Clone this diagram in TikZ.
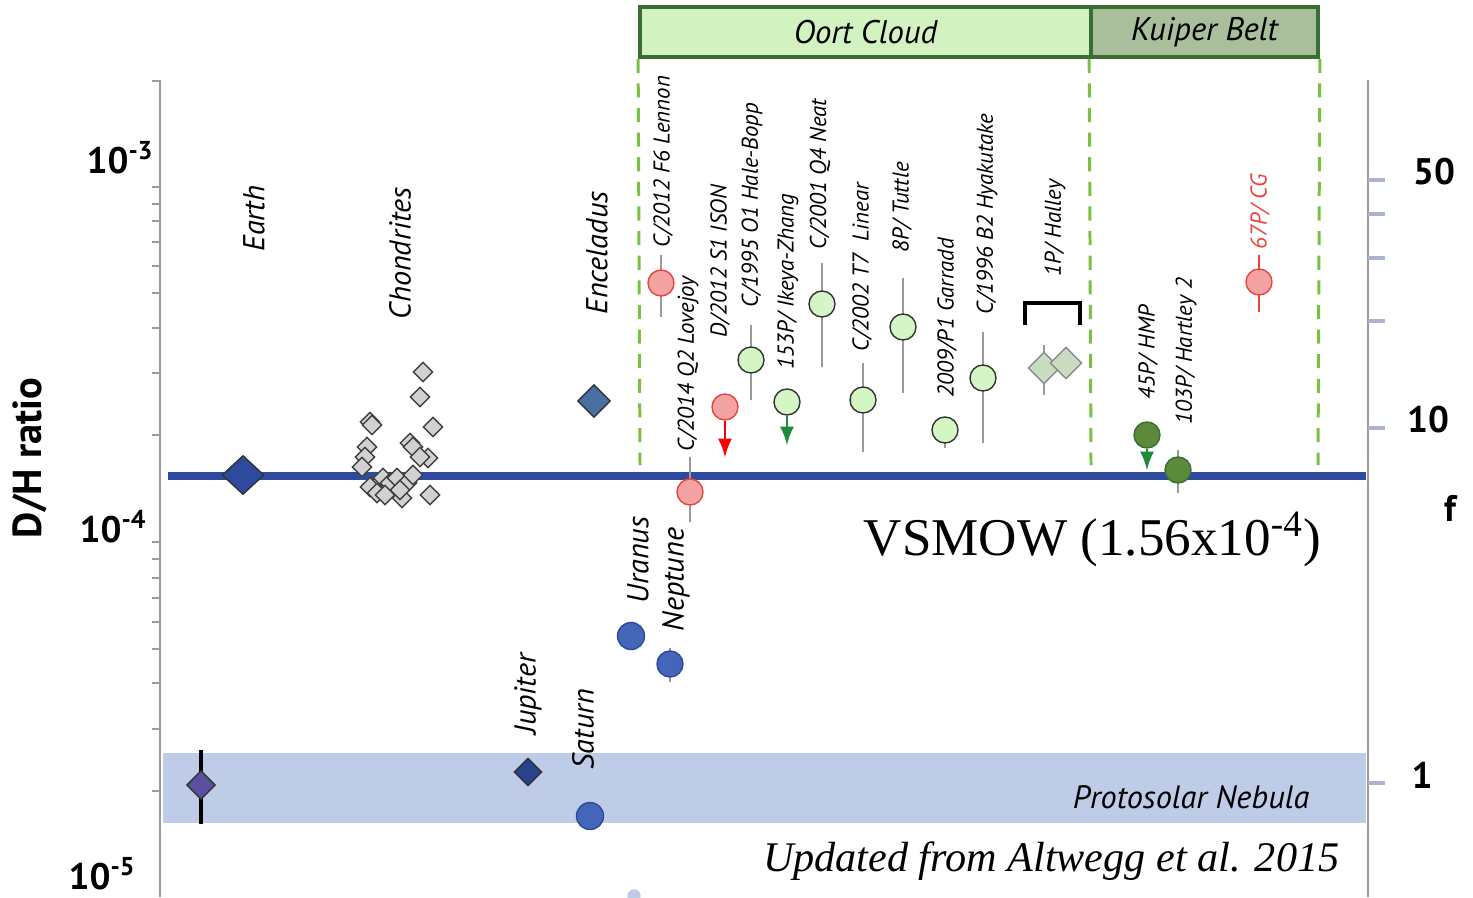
\documentclass[tikz,border=0pt]{standalone}
\usepackage{fontspec}
\setmainfont{Liberation Serif}
\setsansfont{PT Sans}
\usetikzlibrary{arrows,shapes}
\definecolor{smow}{HTML}{2E4A9E}
\definecolor{nebula}{HTML}{BFCCE8}
\definecolor{oortfill}{HTML}{D3F2C2}
\definecolor{kuipfill}{HTML}{A9BF9B}
\definecolor{beltedge}{HTML}{3A6E34}
\definecolor{dashgreen}{HTML}{7CC043}
\definecolor{axgray}{HTML}{9B9B9B}
\definecolor{ftick}{HTML}{AAB4CC}
\definecolor{ptred}{HTML}{E8463C}
\definecolor{ptpink}{HTML}{F4A3A3}
\definecolor{ltgreen}{HTML}{D4F5C4}
\definecolor{dkgreen}{HTML}{5A8A3A}
\definecolor{planet}{HTML}{4466B8}
\definecolor{arrgreen}{HTML}{1E8A3C}
\definecolor{encelfill}{HTML}{4A6FA5}
\definecolor{nebfill}{HTML}{5B4FA0}
\definecolor{halleyfill}{HTML}{C9DCC0}
\tikzstyle{axis}=[axgray,line width=0.8pt]
\tikzstyle{ebar}=[axgray,line width=0.8pt]
\tikzstyle{redc}=[circle,draw=ptred,fill=ptpink,line width=0.4pt,minimum size=0.26cm,inner sep=0pt]
\tikzstyle{oortc}=[circle,draw=black!80,fill=ltgreen,line width=0.4pt,minimum size=0.26cm,inner sep=0pt]
\tikzstyle{kuipc}=[circle,draw=beltedge,fill=dkgreen,line width=0.4pt,minimum size=0.26cm,inner sep=0pt]
\tikzstyle{planetc}=[circle,draw=smow,fill=planet,line width=0.4pt,minimum size=0.27cm,inner sep=0pt]
\tikzstyle{chond}=[diamond,draw=black!75,fill=black!18,line width=0.4pt,minimum size=0.2cm,inner sep=0pt]
\tikzstyle{belt}=[rectangle,draw=beltedge,line width=1pt,minimum height=0.5cm,inner sep=0pt,font=\sffamily\itshape\fontsize{9.3}{11}\selectfont]
\tikzstyle{gdash}=[dashgreen,line width=0.85pt,dash pattern=on 4pt off 3pt]
\tikzstyle{clbl}=[rotate=90,anchor=west,inner sep=0pt,font=\sffamily\itshape\fontsize{6.5}{7}\selectfont]
\tikzstyle{plbl}=[rotate=90,anchor=west,inner sep=0pt,font=\sffamily\itshape\fontsize{8.6}{9}\selectfont]
\tikzstyle{ticklbl}=[inner sep=0pt,font=\sffamily\bfseries\fontsize{10.5}{12}\selectfont]
\tikzstyle{uplim}=[-latex,line width=0.8pt]

\begin{document}
\begin{tikzpicture}[x=0.01cm,y=-0.01cm]
\useasboundingbox (0,0) rectangle (1473,897);
% nebula band and VSMOW line
\fill[nebula] (163,753) rectangle (1366,823);
\draw[smow,line width=2pt] (168,476) -- (1366,476);
% axes
\draw[axis] (160,80) -- (160,897); \draw[axis] (152,81) -- (160,81);
\draw[axis] (152,187)--(160,187); \draw[axis] (152,204)--(160,204); \draw[axis] (152,221)--(160,221);
\draw[axis] (152,242)--(160,242); \draw[axis] (152,266)--(160,266); \draw[axis] (152,293)--(160,293);
\draw[axis] (152,328)--(160,328); \draw[axis] (152,373)--(160,373); \draw[axis] (152,435)--(160,435);
\draw[axis] (152,542)--(160,542); \draw[axis] (152,559)--(160,559); \draw[axis] (152,578)--(160,578);
\draw[axis] (152,598)--(160,598); \draw[axis] (152,622)--(160,622); \draw[axis] (152,649)--(160,649);
\draw[axis] (152,683)--(160,683); \draw[axis] (152,729)--(160,729); \draw[axis] (152,791)--(160,791);
\draw[axis] (1368,80) -- (1368,897);
\draw[ftick,line width=0.9pt] (1368,180)--(1385,180); \draw[ftick,line width=0.9pt] (1368,214)--(1385,214);
\draw[ftick,line width=0.9pt] (1368,258)--(1385,258); \draw[ftick,line width=0.9pt] (1368,321)--(1385,321);
\draw[ftick,line width=0.9pt] (1368,428)--(1385,428); \draw[ftick,line width=0.9pt] (1368,783)--(1385,783);
\node[ticklbl,anchor=east] (e3) at (155,158) {10\textsuperscript{-3}};
\node[ticklbl,anchor=east] (e4) at (148,527) {10\textsuperscript{-4}};
\node[ticklbl,anchor=east] (e5) at (137,874) {10\textsuperscript{-5}};
\node[rotate=90,inner sep=0pt,font=\sffamily\bfseries\fontsize{11.5}{13}\selectfont] (ylab) at (30,458) {D/H ratio};
\node[ticklbl] (f50) at (1434,172) {50};
\node[ticklbl] (f10) at (1428,420) {10};
\node[ticklbl] (fsym) at (1450,508) {f};
\node[ticklbl] (f1) at (1422,775) {1};
% reservoirs
\node[belt,fill=oortfill,minimum width=4.51cm] (oort) at (865.5,32) {Oort Cloud};
\node[belt,fill=kuipfill,minimum width=2.27cm] (kuiper) at (1204.5,32) {Kuiper Belt};
\coordinate (oortend) at (640,465); \coordinate (midend) at (1091,465); \coordinate (kuipend) at (1318,465);
\draw[gdash] (oort.south west) -- (oortend);
\draw[gdash] (kuiper.south west) -- (midend);
\draw[gdash] (kuiper.south east) -- (kuipend);
% error bars
\draw[black,line width=1pt] (201,750) -- (201,824);
\draw[ebar] (661,255) -- (661,317); \draw[ebar] (690,457) -- (690,522);
\draw[ebar] (751,325) -- (751,400); \draw[ebar] (822,263) -- (822,367);
\draw[ebar] (863,363) -- (863,452); \draw[ebar] (903,278) -- (903,393);
\draw[ebar] (945,430) -- (945,448); \draw[ebar] (983,332) -- (983,443);
\draw[ebar] (1044,345) -- (1044,395); \draw[ebar] (1178,450) -- (1178,493);
\draw[ebar] (670,648) -- (670,682);
\draw[ptred,line width=0.8pt] (1259,255) -- (1259,312);
\draw[black,line width=1.4pt] (1025,325) -- (1025,303) -- (1080,303) -- (1080,325);
% planets and moons
\node[diamond,draw=black!80,fill=smow,minimum width=0.42cm,minimum height=0.39cm,inner sep=0pt] (earth) at (243,475) {};
\node[diamond,draw=black!80,fill=encelfill,minimum size=0.33cm,inner sep=0pt] (encel) at (594,401) {};
\node[diamond,draw=black!80,fill=smow!90!black,minimum size=0.28cm,inner sep=0pt] (jup) at (528,772) {};
\node[diamond,draw=black!80,fill=nebfill,minimum size=0.29cm,inner sep=0pt] (pneb) at (201,785) {};
\node[planetc] (sat) at (590,816) {};
\node[planetc] (ura) at (631,636) {};
\node[planetc,minimum size=0.26cm] (nep) at (670,664) {};
\node[planetc,minimum size=0.12cm,fill=nebula,draw=nebula] (ghost) at (634,896) {};
% chondrites
\node[chond] (ch1) at (423,372) {}; \node[chond] (ch2) at (420,397) {}; \node[chond] (ch3) at (433,427) {};
\node[chond] (ch4) at (370,422) {}; \node[chond] (ch5) at (372,425) {}; \node[chond] (ch6) at (367,447) {};
\node[chond] (ch7) at (365,457) {}; \node[chond] (ch8) at (362,467) {}; \node[chond] (ch9) at (410,443) {};
\node[chond] (ch10) at (413,447) {}; \node[chond] (ch11) at (428,458) {}; \node[chond] (ch12) at (420,457) {};
\node[chond] (ch13) at (370,487) {}; \node[chond] (ch14) at (377,493) {}; \node[chond] (ch15) at (383,478) {};
\node[chond] (ch16) at (390,483) {}; \node[chond] (ch17) at (397,478) {}; \node[chond] (ch18) at (402,498) {};
\node[chond] (ch19) at (407,483) {}; \node[chond] (ch20) at (413,475) {}; \node[chond] (ch21) at (430,495) {};
\node[chond] (ch22) at (400,490) {}; \node[chond] (ch23) at (385,495) {};
% comets
\node[redc] (lennon) at (661,283) {};
\node[redc] (lovejoy) at (690,492) {};
\node[redc] (ison) at (725,407) {};
\node[oortc] (halebopp) at (751,360) {};
\node[oortc] (ikeya) at (787,402) {};
\node[oortc] (neat) at (822,304) {};
\node[oortc] (linear) at (863,400) {};
\node[oortc] (tuttle) at (903,327) {};
\node[oortc] (garradd) at (945,430) {};
\node[oortc] (hyaku) at (983,378) {};
\node[diamond,draw=black!45,fill=halleyfill,minimum size=0.32cm,inner sep=0pt] (halley1) at (1044,368) {};
\node[diamond,draw=black!45,fill=halleyfill,minimum size=0.32cm,inner sep=0pt] (halley2) at (1066,363) {};
\node[kuipc] (hmp) at (1147,435) {};
\node[kuipc] (hartley) at (1178,470) {};
\node[redc] (cg) at (1259,282) {};
\coordinate (isonend) at (725,457); \coordinate (ikeyaend) at (787,445); \coordinate (hmpend) at (1147,470);
\draw[uplim,red] (ison) -- (isonend);
\draw[uplim,arrgreen] (ikeya) -- (ikeyaend);
\draw[uplim,arrgreen] (hmp) -- (hmpend);
% labels
\node[plbl] (tearth) at (254,252) {Earth};
\node[plbl] (tchond) at (400,320) {Chondrites};
\node[plbl] (tencel) at (597,315) {Enceladus};
\node[plbl] (tjup) at (528,735) {Jupiter};
\node[plbl] (tsat) at (583,770) {Saturn};
\node[plbl] (tura) at (638,604) {Uranus};
\node[plbl] (tnep) at (676,632) {Neptune};
\node[clbl] (tlennon) at (663,248) {C/2012 F6 Lennon};
\node[clbl] (tlovejoy) at (688,452) {C/2014 Q2 Lovejoy};
\node[clbl] (tison) at (720,338) {D/2012 S1 ISON};
\node[clbl] (thalebopp) at (752,308) {C/1995 O1 Hale-Bopp};
\node[clbl] (tikeya) at (788,370) {153P/ Ikeya-Zhang};
\node[clbl] (tneat) at (820,250) {C/2001 Q4 Neat};
\node[clbl] (tlinear) at (862,352) {C/2002 T7 \ Linear};
\node[clbl] (ttuttle) at (902,253) {8P/ Tuttle};
\node[clbl] (tgarradd) at (947,398) {2009/P1 Garradd};
\node[clbl] (thyaku) at (987,315) {C/1996 B2 Hyakutake};
\node[clbl] (thalley) at (1055,277) {1P/ Halley};
\node[clbl] (thmp) at (1148,400) {45P/ HMP};
\node[clbl] (thartley) at (1186,425) {103P/ Hartley 2};
\node[clbl,text=ptred] (tcg) at (1260,250) {67P/ CG};
\node[anchor=base east,inner sep=0pt,font=\rmfamily\fontsize{15.1}{17}\selectfont] (vsmow) at (1322,555) {VSMOW (1.56x10\textsuperscript{-4})};
\node[anchor=base east,inner sep=0pt,font=\sffamily\itshape\fontsize{9.2}{10}\selectfont] (tneb) at (1310,808) {Protosolar Nebula};
\node[anchor=base east,inner sep=0pt,font=\rmfamily\itshape\fontsize{12}{14}\selectfont] (credit) at (1340,871) {Updated from Altwegg et al. 2015};
\end{tikzpicture}
\end{document}
